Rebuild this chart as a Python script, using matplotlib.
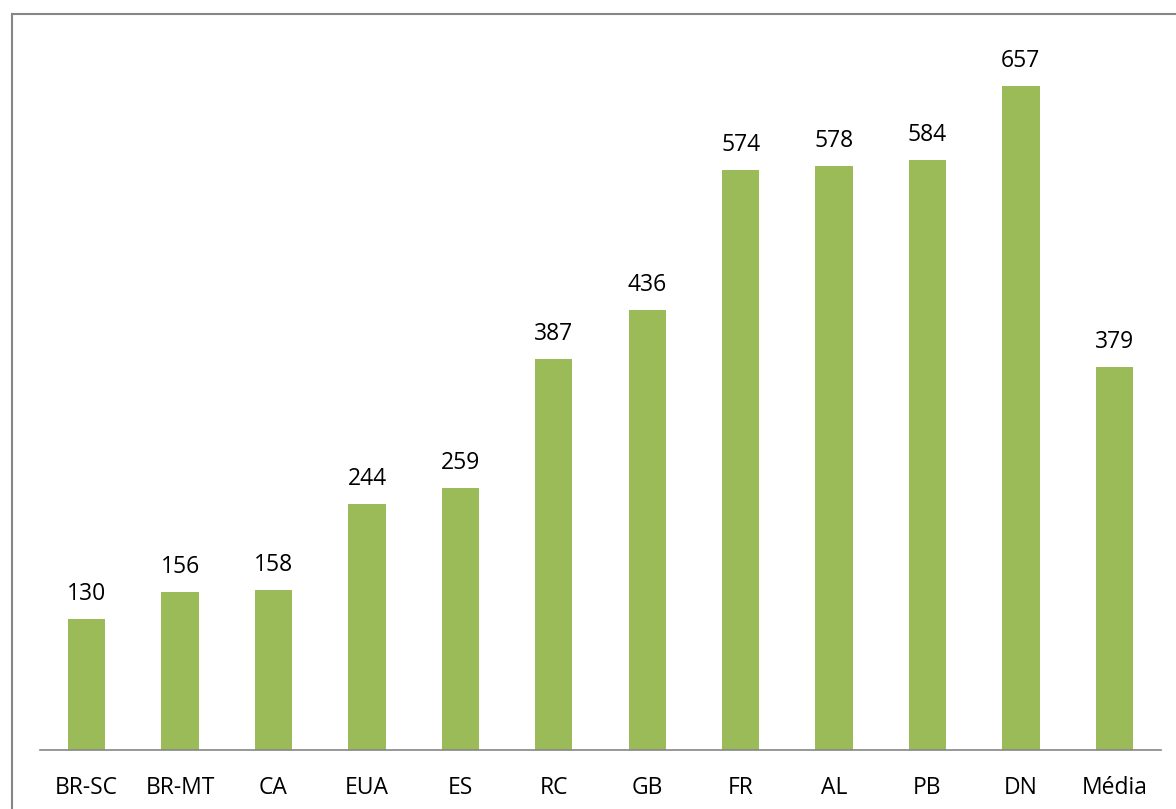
import matplotlib
matplotlib.use('Agg')
import matplotlib.pyplot as plt
from matplotlib.lines import Line2D

# Data
categories = ['BR-SC', 'BR-MT', 'CA', 'EUA', 'ES', 'RC', 'GB', 'FR', 'AL', 'PB', 'DN', 'Média']
values = [130, 156, 158, 244, 259, 387, 436, 574, 578, 584, 657, 379]

BAR_COLOR = '#9BBB59'
EDGE_GRAY = '#868686'
W, H = 1176, 809
FS = 16.5

plt.rcParams['font.family'] = ['Open Sans', 'DejaVu Sans']

fig = plt.figure(figsize=(W / 100, H / 100), dpi=100)
ax = fig.add_axes([40 / W, 59 / H, (1161 - 40) / W, 707 / H])

x = range(len(categories))
ax.bar(x, values, width=0.4, color=BAR_COLOR)
for i, v in zip(x, values):
    ax.annotate(str(v), (i, v), xytext=(0, 18), textcoords='offset points',
                ha='center', va='center', fontsize=FS, color='black')

ax.set_xlim(-0.5, len(categories) - 0.5)
ax.set_ylim(0, 700)
ax.set_xticks(list(x))
ax.set_xticklabels(categories, fontsize=FS)
ax.tick_params(axis='x', length=0, pad=18.5)
ax.set_yticks([])
for side in ['top', 'right', 'left']:
    ax.spines[side].set_visible(False)
ax.spines['bottom'].set_color(EDGE_GRAY)
ax.spines['bottom'].set_linewidth(1.2)

# Chart area border (top and left visible)
fig.add_artist(Line2D([11.5 / W, 11.5 / W], [0, 1 - 14 / H], transform=fig.transFigure,
                      color=EDGE_GRAY, lw=1.5))
fig.add_artist(Line2D([11.5 / W, 1], [1 - 14 / H, 1 - 14 / H], transform=fig.transFigure,
                      color=EDGE_GRAY, lw=1.5))

fig.savefig('out.png', dpi=100)
